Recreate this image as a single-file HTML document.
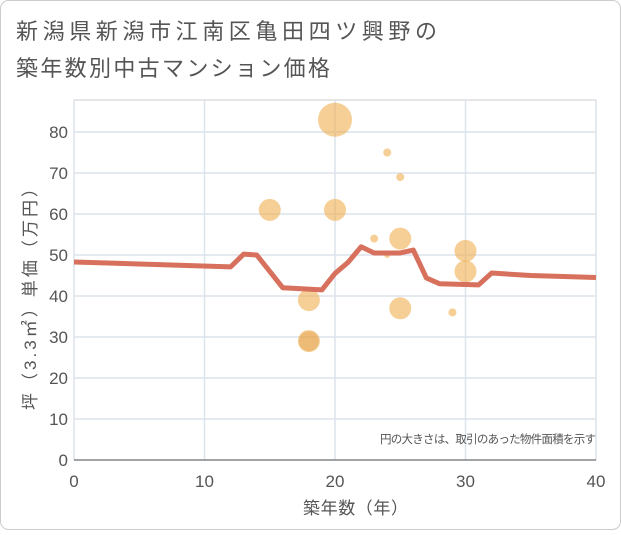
<!DOCTYPE html>
<html><head><meta charset="utf-8"><style>
body{margin:0;background:#fff;}
svg text{font-family:"Liberation Sans","Noto Sans CJK JP",sans-serif;}
</style></head><body>
<svg width="621" height="530" viewBox="0 0 621 530">
<rect x="0.5" y="0.5" width="620" height="529" rx="8" fill="#fff" stroke="#ccc"/>
<text x="16" y="39" font-size="22" fill="#555" textLength="421" lengthAdjust="spacing">新潟県新潟市江南区亀田四ツ興野の</text>
<text x="16" y="76" font-size="22" fill="#555" textLength="314" lengthAdjust="spacing">築年数別中古マンション価格</text>
<g id="grid"></g>
<g id="bubbles"></g>
<g id="line"></g>
<g id="axes"></g>
<text x="596" y="443" font-size="11.5" fill="#555" text-anchor="end" textLength="216" lengthAdjust="spacing">円の大きさは、取引のあった物件面積を示す</text>
<text x="303" y="514" font-size="17" fill="#555" textLength="105" lengthAdjust="spacing">築年数（年）</text>
<text transform="translate(36,410) rotate(-90)" font-size="17" fill="#555" textLength="230" lengthAdjust="spacing">坪（3.3㎡）単価（万円）</text>
</svg>
<script>
const xTicks=[0,10,20,30,40];
const yTicks=[0,10,20,30,40,50,60,70,80];
const bubbleX=[20,24,25,15,20,23,25,24,30,30,18,25,29,18];
const bubbleY=[83,75,69,61,61,54,54,50,51,46,39,37,36,29];
const bubbleR=[17,4,4,11,11,4,11,3,11,11,11,11,4,11];
const lineX=[0,12,13,14,16,19,20,21,22,23,25,26,27,28,31,32,35,40];
const lineY=[48.3,47.1,50.2,50,42,41.5,45.5,48.2,52,50.5,50.5,51.2,44.4,43,42.7,45.6,45,44.5];
const L=74,R=596,T=100,B=460;
const sx=v=>L+(v-0)/(40-0)*(R-L);
const sy=v=>B-v/80*(B-132);
const NS="http://www.w3.org/2000/svg";
function mk(tag,attrs,parent){const e=document.createElementNS(NS,tag);for(const k in attrs)e.setAttribute(k,attrs[k]);parent.appendChild(e);return e;}
const grid=document.getElementById('grid'),axes=document.getElementById('axes');
const pr=mk('rect',{x:L,y:T,width:R-L,height:B-T,fill:'#fff',stroke:'#ccc'},grid);


yTicks.forEach(v=>{
 const g=mk('line',{x1:L,x2:R,y1:sy(v),y2:sy(v),stroke:'#dbe3ec','stroke-width':1.5},grid);
 
 
 const t=mk('text',{x:L-6,y:sy(v)+6,'font-size':17,fill:'#555','text-anchor':'end'},axes);
 t.textContent=v;
 
 
});
xTicks.forEach(v=>{
 const g=mk('line',{x1:sx(v),x2:sx(v),y1:T,y2:B,stroke:'#dbe3ec','stroke-width':1.5},grid);
 
 
 const t=mk('text',{x:sx(v),y:B+27,'font-size':17,fill:'#555','text-anchor':'middle'},axes);
 t.textContent=v;
 
 
});
const ax=mk('line',{x1:L,x2:R,y1:B,y2:B,stroke:'#555','stroke-width':1},axes);


const bg=document.getElementById('bubbles');
bubbleX.forEach((x,i)=>{
 const c=mk('circle',{cx:sx(x),cy:sy(bubbleY[i]),r:bubbleR[i],fill:'rgba(240,175,80,0.6)'},bg);
 
 
});
const extra=mk('circle',{cx:sx(18),cy:sy(29),r:10,fill:'rgba(220,150,60,0.35)'},bg);


const p=mk('polyline',{points:lineX.map((x,i)=>sx(x)+','+sy(lineY[i])).join(' '),fill:'none',stroke:'#d7705c','stroke-width':5,'stroke-linejoin':'round'},document.getElementById('line'));


</script>
</body></html>
